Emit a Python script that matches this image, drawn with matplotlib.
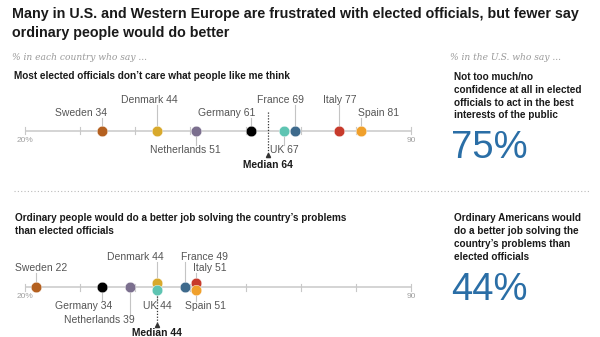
import matplotlib
matplotlib.use("Agg")
import matplotlib.pyplot as plt

# ---------------- data ----------------
countries = ["Sweden", "Denmark", "Netherlands", "Germany", "UK", "France", "Italy", "Spain"]
values_care = [34, 44, 51, 61, 67, 69, 77, 81]          # officials don't care
values_ordinary = [22, 44, 39, 34, 44, 49, 51, 51]      # ordinary people better
median_care = 64
median_ordinary = 44
us_care = 75
us_ordinary = 44
tick_values = [20, 30, 40, 50, 60, 70, 80, 90]
tick_labels = ["20%", "", "", "", "", "", "", "90"]

colors = {
    "Sweden": "#b4601f", "Denmark": "#d8a92c", "Netherlands": "#7b6f8e",
    "Germany": "#000000", "UK": "#5ec4b2", "France": "#3e6a8c",
    "Italy": "#c73a2b", "Spain": "#f0a02b",
}

# ---------------- layout (pixels) ----------------
# (dot vertical offset, label y, label x offset)
layout_care = {
    "Sweden": (0, 113, -21), "Denmark": (0, 100, -8.5), "Netherlands": (0, 150, -11),
    "Germany": (0, 113, -24), "UK": (0, 150, 0), "France": (0, 100, -15),
    "Italy": (0, 100, 0), "Spain": (0, 113, 17.5),
}
layout_ord = {
    "Sweden": (0, 268, 5.5), "Germany": (0, 306, -19), "Netherlands": (0, 320, -30.5),
    "Denmark": (-4.2, 257, -22), "UK": (3.4, 306, 0), "France": (0, 257, 20),
    "Italy": (-4.2, 268, 14), "Spain": (3.4, 306, 9.5),
}
# median: (dotted start, dotted end, triangle y, label y) relative to the line
median_care_layout = (-18.5, 22, 24.5, 34.5)
median_ord_layout = (9, 35.5, 38, 46.5)
draw_order = ["Sweden", "Germany", "Netherlands", "Denmark", "UK", "France", "Italy", "Spain"]

W, H = 600, 337
fig = plt.figure(figsize=(W / 100, H / 100), dpi=100)
bg = fig.add_axes([0, 0, 1, 1])
bg.set_xlim(0, W)
bg.set_ylim(H, 0)
bg.axis("off")

SANS = "Liberation Sans"
DARK = "#1a1a1a"
LABEL = "#555555"
BLUE = "#2a6ea6"
FS_HEAD = 7.2

# Title
bg.text(12, 14, "Many in U.S. and Western Europe are frustrated with elected officials, but fewer say",
        fontsize=10.3, fontweight="bold", family=SANS, color=DARK, va="center", ha="left")
bg.text(12, 33, "ordinary people would do better",
        fontsize=10.3, fontweight="bold", family=SANS, color=DARK, va="center", ha="left")
bg.text(12, 57, "% in each country who say ...", fontsize=6.6, style="italic",
        family="DejaVu Serif", color="#9a9a9a", va="center", ha="left")
bg.text(450, 57, "% in the U.S. who say ...", fontsize=6.6, style="italic",
        family="DejaVu Serif", color="#9a9a9a", va="center", ha="left")

bg.text(14, 76, "Most elected officials don\u2019t care what people like me think",
        fontsize=FS_HEAD, fontweight="bold", family=SANS, color=DARK, va="center", ha="left")
bg.text(15, 218, "Ordinary people would do a better job solving the country\u2019s problems",
        fontsize=FS_HEAD, fontweight="bold", family=SANS, color=DARK, va="center", ha="left")
bg.text(15, 231.5, "than elected officials",
        fontsize=FS_HEAD, fontweight="bold", family=SANS, color=DARK, va="center", ha="left")

# separator
bg.plot([14, 589], [190.7, 190.7], ls=(0, (1, 2)), color="#bbbbbb", lw=0.8)

# right-side US blocks
right_top = ["Not too much/no", "confidence at all in elected",
             "officials to act in the best", "interests of the public"]
for i, line in enumerate(right_top):
    bg.text(454, 77 + i * 12.8, line, fontsize=FS_HEAD, fontweight="bold", family=SANS,
            color=DARK, va="center", ha="left")
right_bot = ["Ordinary Americans would", "do a better job solving the",
             "country\u2019s problems than", "elected officials"]
for i, line in enumerate(right_bot):
    bg.text(454, 218 + i * 12.9, line, fontsize=FS_HEAD, fontweight="bold", family=SANS,
            color=DARK, va="center", ha="left")
bg.text(451, 147.5, f"{us_care}%", fontsize=27.5, family=SANS, color=BLUE, va="center", ha="left")
bg.text(451, 290, f"{us_ordinary}%", fontsize=27.5, family=SANS, color=BLUE, va="center", ha="left")


def dot_panel(y_top, y_bot, line_y, values, layout, median, mlay):
    ax = fig.add_axes([25 / W, (H - y_bot) / H, 386 / W, (y_bot - y_top) / H])
    ax.set_xlim(tick_values[0], tick_values[-1])
    ax.set_ylim(y_bot, y_top)
    ax.axis("off")
    px_per_unit = 386 / (tick_values[-1] - tick_values[0])
    ax.plot([tick_values[0], tick_values[-1]], [line_y, line_y], color="#d4d4d4",
            lw=1.4, clip_on=False, zorder=1, solid_capstyle="butt")
    for t, lab in zip(tick_values, tick_labels):
        ax.plot([t, t], [line_y - 3.5, line_y + 3.5], color="#c8c8c8", lw=0.8,
                clip_on=False, zorder=1)
        if lab:
            ax.text(t, line_y + 9.5, lab, fontsize=6, color="#a0a0a0", family=SANS,
                    ha="center", va="center")
    # median
    m0, m1, mt, ml = mlay
    ax.plot([median, median], [line_y + m0, line_y + m1], ls=(0, (1, 1.3)),
            color="#333333", lw=0.9, clip_on=False, zorder=5)
    ax.plot([median], [line_y + mt], marker="^", ms=3, color="#333333",
            clip_on=False, zorder=5)
    ax.text(median, line_y + ml, f"Median {median}", fontsize=7.4, fontweight="bold",
            family=SANS, color=DARK, ha="center", va="center")
    vals = dict(zip(countries, values))
    for c in draw_order:
        v = vals[c]
        ddy, ly, ldx = layout[c]
        dy = line_y + ddy
        if ly < dy:
            ax.plot([v, v], [dy, ly + 5], color="#c4c4c4", lw=0.8, clip_on=False, zorder=2)
        else:
            ax.plot([v, v], [dy, ly - 5], color="#c4c4c4", lw=0.8, clip_on=False, zorder=2)
        ax.plot([v], [dy], marker="o", ms=7.6, color=colors[c], mec="white", mew=0.3,
                clip_on=False, zorder=3)
        ax.text(v + ldx / px_per_unit, ly, f"{c} {v}", fontsize=7.5, family=SANS,
                color=LABEL, ha="center", va="center", zorder=4)
    return ax


dot_panel(90, 170, 130.5, values_care, layout_care, median_care, median_care_layout)
dot_panel(245, 337, 287, values_ordinary, layout_ord, median_ordinary, median_ord_layout)

fig.savefig("out.png", dpi=100)
